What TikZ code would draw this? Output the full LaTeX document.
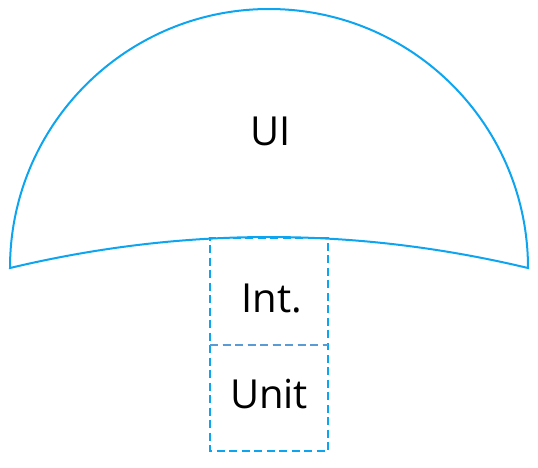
\documentclass[tikz,border=0pt]{standalone}
\usepackage{fontspec}
\setmainfont{Open Sans}
\usepackage{tikz}
\usetikzlibrary{positioning}
\definecolor{domeblue}{RGB}{14,165,240}
\definecolor{lineblue}{RGB}{91,155,213}
\tikzset{dome line/.style={draw=domeblue,line width=2pt},
         part box/.style={draw=domeblue,line width=1.8pt,dash pattern=on 8pt off 4.5pt,minimum width=118pt,inner sep=0pt,outer sep=0pt},
         part label/.style={font=\fontsize{40}{46}\selectfont,inner sep=0pt,anchor=base},
            }

\begin{document}
\begin{tikzpicture}[x=1pt,y=-1pt]

    \useasboundingbox (0,0) rectangle (538,467);

    % dome
    \coordinate (left) at (10,268);
    \coordinate (right) at (528,268);
    \draw[dome line,line join=miter] (left) arc[start angle=180,end angle=0,x radius=259,y radius=-259]
        .. controls (355.3,226.7) and (182.7,226.7) .. (left) -- cycle;
    \node[part label] (ui) at (271,145) {UI};

    % stack under the dome
    \node[part box,minimum height=107pt,anchor=north west] (intbox) at (210,238) {};
    \node[part box,draw=none,minimum height=106pt] (unitbox) [below = 0pt of intbox] {};
    \draw[domeblue,line width=1.8pt,dash pattern=on 8pt off 4.5pt]
        (intbox.south west) -- (unitbox.south west) -- (unitbox.south east) -- (intbox.south east);
    \draw[lineblue,line width=1.8pt,dash pattern=on 8pt off 4.5pt] (intbox.south west) -- (intbox.south east);
    \node[part label] (int) at (272,312) {Int.};
    \node[part label] (unit) at (269,408) {Unit};

\end{tikzpicture}
\end{document}
